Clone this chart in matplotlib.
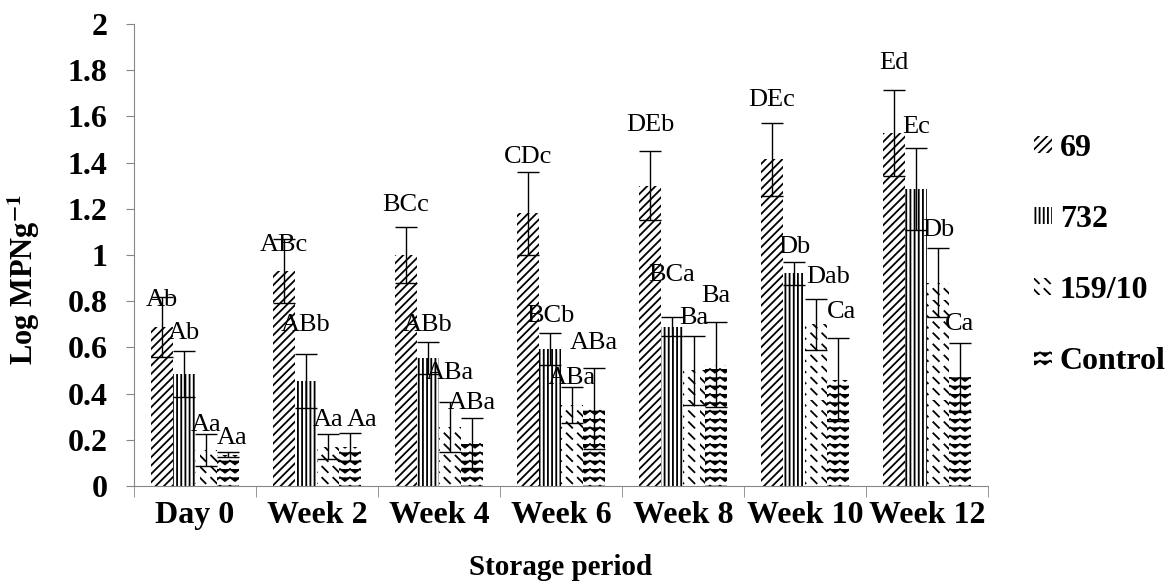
import numpy as np
import matplotlib
matplotlib.use('Agg')
import matplotlib.pyplot as plt
import matplotlib.hatch as mhatch
from matplotlib.path import Path
from matplotlib.patches import Patch

# storage periods and strains
periods = ['Day 0', 'Week 2', 'Week 4', 'Week 6', 'Week 8', 'Week 10', 'Week 12']
strains = ['69', '732', '159/10', 'Control']

# Log MPN/g means
mpn_69 = [0.69, 0.93, 1.00, 1.18, 1.30, 1.415, 1.53]
mpn_732 = [0.485, 0.455, 0.554, 0.593, 0.69, 0.92, 1.286]
mpn_159 = [0.155, 0.17, 0.255, 0.35, 0.50, 0.70, 0.88]
mpn_ctrl = [0.135, 0.17, 0.186, 0.337, 0.525, 0.46, 0.47]

# error bars
err_69 = [0.13, 0.14, 0.12, 0.18, 0.15, 0.158, 0.186]
err_732 = [0.10, 0.117, 0.068, 0.069, 0.04, 0.048, 0.178]
err_159 = [0.07, 0.055, 0.11, 0.078, 0.15, 0.11, 0.15]
err_ctrl = [0.01, 0.06, 0.108, 0.175, 0.185, 0.18, 0.15]

# significance letters
let_69 = ['Ab', 'ABc', 'BCc', 'CDc', 'DEb', 'DEc', 'Ed']
let_732 = ['Ab', 'ABb', 'ABb', 'BCb', 'BCa', 'Db', 'Ec']
let_159 = ['Aa', 'Aa', 'ABa', 'ABa', 'Ba', 'Dab', 'Db']
let_ctrl = ['Aa', 'Aa', 'ABa', 'ABa', 'Ba', 'Ca', 'Ca']

# where the letters sit (y, data units)
lab_69 = [0.805, 1.043, 1.216, 1.424, 1.563, 1.671, 1.831]
lab_732 = [0.662, 0.697, 0.697, 0.736, 0.913, 1.035, 1.554]
lab_159 = [0.264, 0.286, 0.489, 0.468, 0.727, 0.905, 1.108]
lab_ctrl = [0.208, 0.286, 0.359, 0.619, 0.823, 0.753, 0.70]

# a few letters were nudged sideways in the original (strain, period): shift in group units
nudge = {(3, 0): 0.03, (3, 1): 0.1, (2, 5): 0.1, (3, 5): 0.03}


# wavy hatch for the control bars (takes over the 'o' hatch character)
class Zigzag(mhatch.HatchPatternBase):
    def __init__(self, hatch, density):
        self.num_rows = int(hatch.count('o') * density)
        self.teeth = int(self.num_rows * 0.85)
        self.num_vertices = self.num_rows * (2 * self.teeth + 1)

    def set_vertices_and_codes(self, vertices, codes):
        n = 2 * self.teeth + 1
        xs = np.linspace(0.0, 1.0, n)
        amp = 0.22 / max(self.num_rows, 1)
        for r in range(self.num_rows):
            y0 = (r + 0.5) / self.num_rows
            ys = y0 + amp * np.where(np.arange(n) % 2 == 0, 1, -1)
            vertices[r * n:(r + 1) * n, 0] = xs
            vertices[r * n:(r + 1) * n, 1] = ys
            codes[r * n] = Path.MOVETO
            codes[r * n + 1:(r + 1) * n] = Path.LINETO


# short broken "\" dashes for 159/10 (takes over 'O')
class Dashes(mhatch.HatchPatternBase):
    def __init__(self, hatch, density):
        self.n = int(hatch.count('O') * density * 0.8)
        self.num_vertices = self.n * self.n * 2

    def set_vertices_and_codes(self, vertices, codes):
        n = self.n
        f = 0.5
        i = 0
        for k in range(n):
            for j in range(n):
                y0 = ((k - j) % n) / n
                if y0 == 0:
                    y0 = 1.0
                x0 = j / n
                vertices[i] = (x0, y0)
                vertices[i + 1] = (x0 + f / n, y0 - f / n)
                codes[i] = Path.MOVETO
                codes[i + 1] = Path.LINETO
                i += 2


mhatch._hatch_types = [t for t in mhatch._hatch_types
                       if t not in (mhatch.SmallCircles, mhatch.LargeCircles)] + [Zigzag, Dashes]

plt.rcParams['font.family'] = ['Liberation Serif', 'DejaVu Serif']
plt.rcParams['mathtext.fontset'] = 'stix'
plt.rcParams['hatch.linewidth'] = 1.3

hatches = ['////', '||||', 'OO', 'oo']
means = [mpn_69, mpn_732, mpn_159, mpn_ctrl]
errs = [err_69, err_732, err_159, err_ctrl]
letters = [let_69, let_732, let_159, let_ctrl]
lab_y = [lab_69, lab_732, lab_159, lab_ctrl]

fig = plt.figure(figsize=(11.69, 5.82), dpi=100)
ax = fig.add_axes([0.1146, 0.165, 0.7306, 0.7938])

x = np.arange(len(periods)) + 0.5
w = 0.18
for k in range(4):
    xpos = x + (k - 1.5) * w
    ax.bar(xpos, means[k], w, color='white', edgecolor='black', linewidth=0,
           hatch=hatches[k], label=strains[k])
    ax.errorbar(xpos, means[k], yerr=errs[k], fmt='none', ecolor='black',
                elinewidth=1, capsize=8, capthick=1)
    for i, (xi, yi, t) in enumerate(zip(xpos, lab_y[k], letters[k])):
        ax.text(xi + nudge.get((k, i), 0), yi, t, ha='center', va='center', fontsize=19)

ax.set_xlim(0, len(periods))
ax.set_ylim(0, 2)
ax.set_yticks(np.arange(0, 2.01, 0.2))
ax.set_yticklabels(['0', '0.2', '0.4', '0.6', '0.8', '1', '1.2', '1.4', '1.6', '1.8', '2'],
                   fontsize=23, fontweight='bold')
ax.set_xticks(x)
ax.set_xticklabels(periods, fontsize=23, fontweight='bold')
ax.set_xticks(np.arange(len(periods) + 1), minor=True)
ax.tick_params(axis='x', which='major', length=0, pad=11)
ax.tick_params(axis='x', which='minor', length=8, color='#868686', direction='out')
ax.tick_params(axis='y', length=6, color='#868686', pad=13)

for s in ['top', 'right']:
    ax.spines[s].set_visible(False)
for s in ['left', 'bottom']:
    ax.spines[s].set_color('#868686')

ax.set_xlabel('Storage period', fontsize=21, fontweight='bold')
ax.xaxis.set_label_coords(0.5, -0.148)
ax.set_ylabel(r'Log MPNg$^{\mathbf{-1}}$', fontsize=22, fontweight='bold')
ax.yaxis.set_label_coords(-0.108, 0.446)

handles = [Patch(facecolor='white', edgecolor='black', linewidth=0, hatch=h) for h in hatches]
fig.legend(handles, strains, loc='center left', bbox_to_anchor=(0.86, 0.562),
           frameon=False, prop={'size': 23, 'weight': 'bold'},
           handlelength=0.55, handleheight=0.45, handletextpad=0.25, labelspacing=1.32)

plt.savefig('out.png', dpi=100)
